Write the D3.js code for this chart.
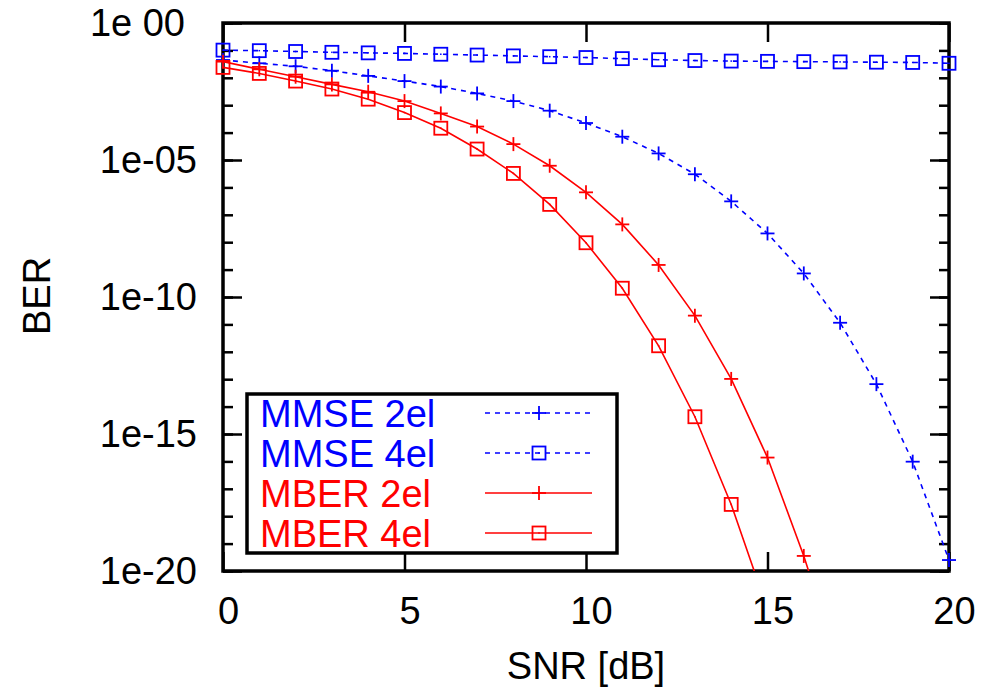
<!DOCTYPE html>
<html><head><meta charset="utf-8">
<script src="https://cdn.jsdelivr.net/npm/d3@7"></script>
<style>
html,body{margin:0;padding:0;background:#fff;}
svg{display:block;font-family:"Liberation Sans",Arial,Helvetica,sans-serif;}
</style></head>
<body>
<svg id="c" width="985" height="690"></svg>
<script>
// ---- data ----
const snr = [0,1,2,3,4,5,6,7,8,9,10,11,12,13,14,15,16,17,18,19,20];
// log10(BER)
const mmse2 = [-1.35,-1.47,-1.58,-1.74,-1.93,-2.12,-2.32,-2.57,-2.85,-3.20,-3.65,-4.15,-4.76,-5.52,-6.51,-7.68,-9.14,-10.94,-13.18,-16.01,-19.6];
const mmse4 = [-0.99,-1.01,-1.04,-1.07,-1.09,-1.11,-1.14,-1.17,-1.20,-1.23,-1.26,-1.30,-1.34,-1.37,-1.39,-1.40,-1.41,-1.42,-1.43,-1.44,-1.47];
const mber2 = [-1.41,-1.69,-1.96,-2.24,-2.51,-2.85,-3.30,-3.78,-4.42,-5.21,-6.18,-7.35,-8.83,-10.68,-12.99,-15.86,-19.45,-23.6];
const mber4 = [-1.62,-1.84,-2.12,-2.41,-2.78,-3.27,-3.84,-4.60,-5.49,-6.62,-8.02,-9.68,-11.78,-14.37,-17.57,-21.4];
const seriesNames = ["MMSE 2el","MMSE 4el","MBER 2el","MBER 4el"];
const xTicks = [0,5,10,15,20];
const xTickLabels = ["0","5","10","15","20"];
const yMajor = [1,1e-5,1e-10,1e-15,1e-20];
const yTickLabels = ["1e 00","1e-05","1e-10","1e-15","1e-20"];
const yMinorExp = [0,-1,-2,-3,-4,-5,-6,-7,-8,-9,-10,-11,-12,-13,-14,-15,-16,-17,-18,-19,-20];

// ---- layout ----
const L=223, R=949, T=23, B=571;
const svg = d3.select("#c");
const x = d3.scaleLinear().domain([0,20]).range([L,R]);
const y = d3.scaleLog().domain([1e-20,1]).range([B,T]);
const BLUE="#0000ff", RED="#ff0000";

const series = [
  {name:seriesNames[0], vals:mmse2, color:BLUE, dash:"5,5", mark:"plus"},
  {name:seriesNames[1], vals:mmse4, color:BLUE, dash:"5,5", mark:"square"},
  {name:seriesNames[2], vals:mber2, color:RED, dash:null, mark:"plus"},
  {name:seriesNames[3], vals:mber4, color:RED, dash:null, mark:"square"}
];

// ---- axes / ticks ----
const minorVals = yMinorExp.map(e=>Math.pow(10,e));
function tickStyle(g,w){ g.select(".domain").remove(); g.selectAll(".tick line").attr("stroke","#000").attr("stroke-width",w); }

svg.append("g").attr("transform",`translate(${L},0)`)
  .call(d3.axisLeft(y).tickValues(minorVals).tickFormat("").tickSizeInner(-10).tickSizeOuter(0))
  .call(g=>tickStyle(g,2.5));
svg.append("g").attr("transform",`translate(${R},0)`)
  .call(d3.axisRight(y).tickValues(minorVals).tickFormat("").tickSizeInner(-10).tickSizeOuter(0))
  .call(g=>tickStyle(g,2.5));
const yl = svg.append("g").attr("transform",`translate(${L},0)`)
  .call(d3.axisLeft(y).tickValues(yMajor).tickFormat((d,i)=>yTickLabels[i]).tickSizeInner(-19).tickSizeOuter(0).tickPadding(26))
  .call(g=>tickStyle(g,2.5));
yl.selectAll(".tick text").attr("font-size",38).attr("fill","#000")
  .attr("font-family","'Liberation Sans',Arial,sans-serif")
  .attr("dx",(d,i)=>i===0?-12:0);
svg.append("g").attr("transform",`translate(${R},0)`)
  .call(d3.axisRight(y).tickValues(yMajor).tickFormat("").tickSizeInner(-19).tickSizeOuter(0))
  .call(g=>tickStyle(g,2.5));
const xb = svg.append("g").attr("transform",`translate(0,${B})`)
  .call(d3.axisBottom(x).tickValues(xTicks).tickFormat((d,i)=>xTickLabels[i]).tickSizeInner(-19).tickSizeOuter(0).tickPadding(26))
  .call(g=>tickStyle(g,2.5));
xb.selectAll(".tick text").attr("font-size",38).attr("fill","#000").attr("dx",5)
  .attr("font-family","'Liberation Sans',Arial,sans-serif");
svg.append("g").attr("transform",`translate(0,${T})`)
  .call(d3.axisTop(x).tickValues(xTicks).tickFormat("").tickSizeInner(-19).tickSizeOuter(0))
  .call(g=>tickStyle(g,2.5));

// frame
svg.append("rect").attr("x",L).attr("y",T).attr("width",R-L).attr("height",B-T)
  .attr("fill","none").attr("stroke","#000").attr("stroke-width",3.5);

// axis titles
svg.append("text").attr("transform","translate(50,296) rotate(-90)").attr("text-anchor","middle")
  .attr("font-size",38).text("BER");
svg.append("text").attr("x",586).attr("y",679).attr("text-anchor","middle")
  .attr("font-size",38).text("SNR [dB]");

// ---- data ----
svg.append("defs").append("clipPath").attr("id","clip")
  .append("rect").attr("x",L).attr("y",T).attr("width",R-L).attr("height",B-T);

const line = d3.line().x(d=>x(d[0])).y(d=>y(Math.pow(10,d[1])));

function drawMark(g,type,cx,cy,color){
  if(type==="plus"){
    g.append("line").attr("x1",cx-7).attr("x2",cx+7).attr("y1",cy).attr("y2",cy).attr("stroke",color).attr("stroke-width",1.8);
    g.append("line").attr("x1",cx).attr("x2",cx).attr("y1",cy-7).attr("y2",cy+7).attr("stroke",color).attr("stroke-width",1.8);
  } else {
    g.append("rect").attr("x",cx-6.5).attr("y",cy-6.5).attr("width",13).attr("height",13)
      .attr("fill","none").attr("stroke",color).attr("stroke-width",1.8);
    g.append("rect").attr("x",cx-0.75).attr("y",cy-0.75).attr("width",1.5).attr("height",1.5).attr("fill",color);
  }
}

series.forEach(s=>{
  const pts = s.vals.map((v,i)=>[snr[i],v]);
  svg.append("path").datum(pts).attr("d",line).attr("clip-path","url(#clip)")
    .attr("fill","none").attr("stroke",s.color).attr("stroke-width",1.6)
    .attr("stroke-dasharray",s.dash);
  const g = svg.append("g");
  pts.filter(p=>p[1]>=-20).forEach(p=>drawMark(g,s.mark,x(p[0]),y(Math.pow(10,p[1])),s.color));
});

// ---- legend ----
const lg = svg.append("g");
lg.append("rect").attr("x",247).attr("y",394).attr("width",370).attr("height",159)
  .attr("fill","#fff").attr("stroke","#000").attr("stroke-width",3.5);
series.forEach((s,i)=>{
  const cy = 413 + i*40;
  lg.append("text").attr("x",260).attr("y",cy+14).attr("font-size",38).attr("fill",s.color).text(s.name);
  lg.append("line").attr("x1",485).attr("x2",592).attr("y1",cy).attr("y2",cy)
    .attr("stroke",s.color).attr("stroke-width",1.6).attr("stroke-dasharray",s.dash);
  drawMark(lg,s.mark,539,cy,s.color);
});
</script>
</body></html>
